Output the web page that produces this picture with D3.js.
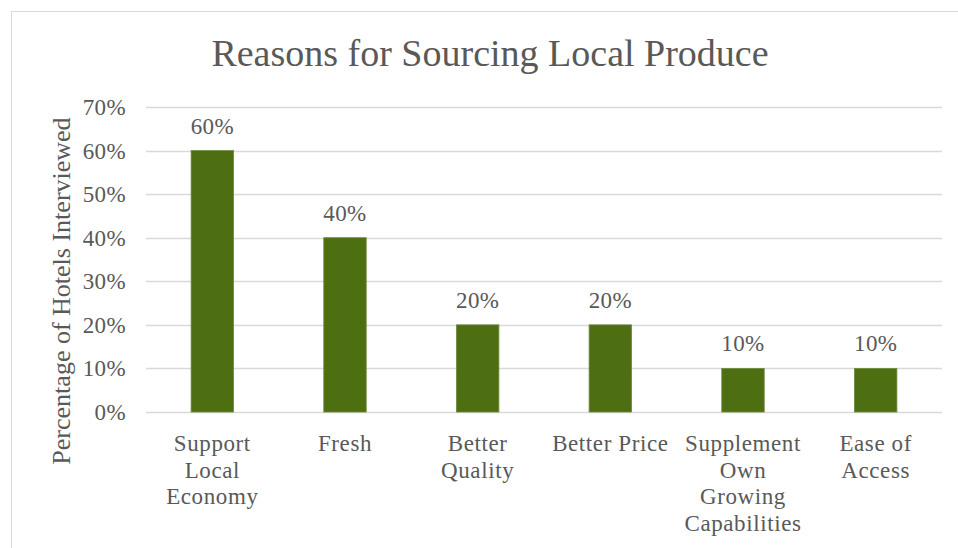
<!DOCTYPE html>
<html>
<head>
<meta charset="utf-8">
<script src="https://cdn.jsdelivr.net/npm/d3@7"></script>
<style>
  html, body { margin: 0; padding: 0; background: #fff; }
</style>
</head>
<body>
<div id="container"></div>
<script>
const width = 958;
const height = 548;

const categories = ['Support Local Economy', 'Fresh', 'Better Quality', 'Better Price',
  'Supplement Own Growing Capabilities', 'Ease of Access'];
const categoryLines = [
  ['Support', 'Local', 'Economy'],
  ['Fresh'],
  ['Better', 'Quality'],
  ['Better Price'],
  ['Supplement', 'Own', 'Growing', 'Capabilities'],
  ['Ease of', 'Access']
];
const values = [0.6, 0.4, 0.2, 0.2, 0.1, 0.1];
const yTicks = [0, 0.1, 0.2, 0.3, 0.4, 0.5, 0.6, 0.7];

const plot = {left: 146, right: 942, top: 107, bottom: 412};
const serif = "'Liberation Serif', 'Times New Roman', Tinos, 'DejaVu Serif', serif";
const ink = '#595959';

const svg = d3.select('#container').append('svg')
  .attr('width', width)
  .attr('height', height)
  .attr('font-family', serif);

// chart frame
svg.append('rect')
  .attr('x', 11.5)
  .attr('y', 11.5)
  .attr('width', width + 10)
  .attr('height', height + 10)
  .attr('fill', 'none')
  .attr('stroke', '#d9d9d9');

const x = d3.scaleBand()
  .domain(categories)
  .range([plot.left, plot.right])
  .paddingInner(0.68)
  .paddingOuter(0.34);

const y = d3.scaleLinear()
  .domain([0, 0.7])
  .range([plot.bottom, plot.top]);

const pct = d3.format('.0%');

// gridlines
svg.append('g')
  .selectAll('line')
  .data(yTicks)
  .join('line')
  .attr('x1', plot.left)
  .attr('x2', plot.right)
  .attr('y1', d => Math.round(y(d)) + 0.5)
  .attr('y2', d => Math.round(y(d)) + 0.5)
  .attr('stroke', '#d9d9d9')
  .attr('stroke-width', 1.5);

// y tick labels
svg.append('g')
  .selectAll('text')
  .data(yTicks)
  .join('text')
  .attr('x', 126)
  .attr('y', d => y(d))
  .attr('dy', '0.35em')
  .attr('text-anchor', 'end')
  .attr('fill', ink)
  .style('font-size', '23px')
  .style('letter-spacing', '0.4px')
  .text(d => pct(d));

// bars
svg.append('g')
  .selectAll('rect')
  .data(values)
  .join('rect')
  .attr('x', (d, i) => x(categories[i]))
  .attr('y', d => y(d))
  .attr('width', x.bandwidth())
  .attr('height', d => y(0) - y(d))
  .attr('fill', '#4e6f11')
  .attr('stroke', '#6f8a3c')
  .attr('stroke-width', 0.8);

// data labels
svg.append('g')
  .selectAll('text')
  .data(values)
  .join('text')
  .attr('x', (d, i) => x(categories[i]) + x.bandwidth() / 2)
  .attr('y', d => y(d) - 17)
  .attr('text-anchor', 'middle')
  .attr('fill', ink)
  .style('font-size', '23px')
  .style('letter-spacing', '0.4px')
  .text(d => pct(d));

// category labels
const catLabel = svg.append('g')
  .selectAll('text')
  .data(categoryLines)
  .join('text')
  .attr('text-anchor', 'middle')
  .attr('fill', ink)
  .style('font-size', '23px')
  .style('letter-spacing', '0.6px');

catLabel.selectAll('tspan')
  .data((lines, i) => lines.map(l => ({l, i})))
  .join('tspan')
  .attr('x', d => x(categories[d.i]) + x.bandwidth() / 2)
  .attr('y', (d, j) => 451 + j * 26.5)
  .text(d => d.l);

// title
svg.append('text')
  .attr('x', 490)
  .attr('y', 66)
  .attr('text-anchor', 'middle')
  .attr('fill', ink)
  .style('font-size', '38px')
  .text('Reasons for Sourcing Local Produce');

// y axis title
svg.append('text')
  .attr('transform', 'translate(70,291) rotate(-90)')
  .attr('text-anchor', 'middle')
  .attr('fill', ink)
  .style('font-size', '26px')
  .text('Percentage of Hotels Interviewed');
</script>
</body>
</html>
